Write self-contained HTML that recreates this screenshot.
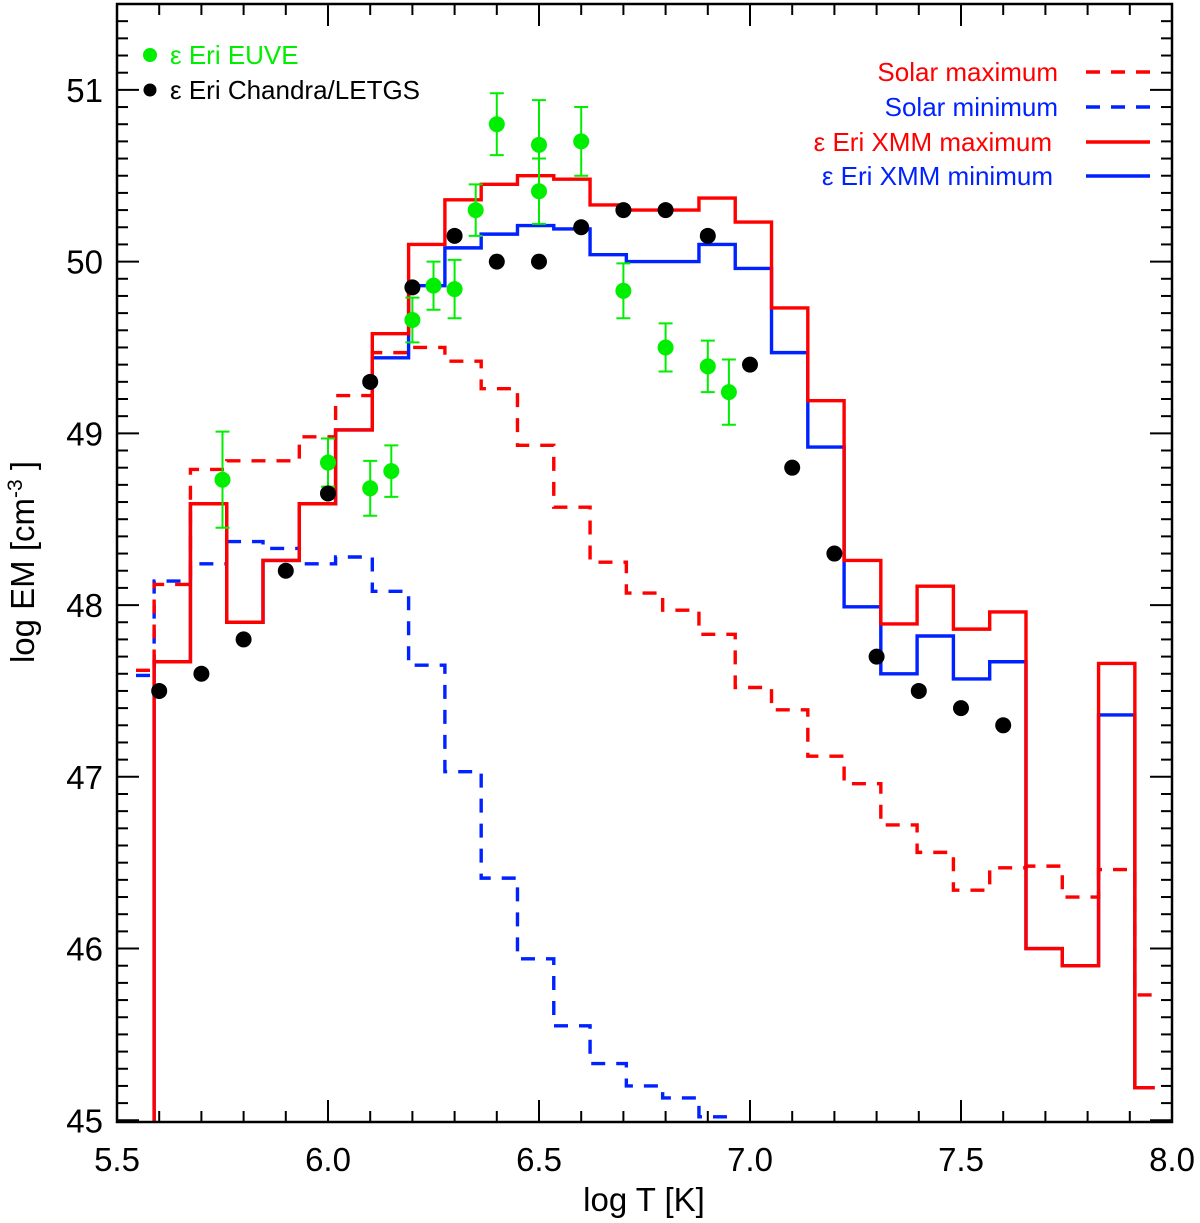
<!DOCTYPE html>
<html><head><meta charset="utf-8">
<style>
html,body{margin:0;padding:0;background:#fff;}
svg{display:block;font-family:"Liberation Sans",Arial,sans-serif;}
</style></head>
<body>
<svg id="chart" width="1200" height="1223" viewBox="0 0 1200 1223" xmlns="http://www.w3.org/2000/svg">
<g id="ticks"></g>
<g id="series"></g>
<rect x="117" y="4" width="1055" height="1118" fill="none" stroke="#000" stroke-width="2.5"/>
<g id="labels" font-size="33" fill="#000"></g>
<text x="644" y="1211" font-size="33" text-anchor="middle">log T [K]</text>
<text transform="translate(34,562) rotate(-90)" font-size="33" text-anchor="middle">log EM [cm<tspan dy="-12" font-size="21">-3</tspan><tspan dy="12"> ]</tspan></text>
<g font-size="26">
  <circle cx="150" cy="55" r="7" fill="#00ee00"/>
  <text x="170" y="64" fill="#00ee00">ε Eri EUVE</text>
  <circle cx="150" cy="90" r="6.5" fill="#000"/>
  <text x="170" y="99" fill="#000">ε Eri Chandra/LETGS</text>
</g>
<g font-size="26" text-anchor="end">
  <text x="1058" y="81" fill="#ff0000">Solar maximum</text>
  <line x1="1086" y1="72" x2="1150" y2="72" stroke="#ff0000" stroke-width="3.4" stroke-dasharray="14,11"/>
  <text x="1058" y="116" fill="#0022ff">Solar minimum</text>
  <line x1="1086" y1="107" x2="1150" y2="107" stroke="#0022ff" stroke-width="3.4" stroke-dasharray="14,11"/>
  <text x="1052" y="151" fill="#ff0000">ε Eri XMM maximum</text>
  <line x1="1086" y1="142" x2="1150" y2="142" stroke="#ff0000" stroke-width="3.4"/>
  <text x="1053" y="185" fill="#0022ff">ε Eri XMM minimum</text>
  <line x1="1086" y1="176" x2="1150" y2="176" stroke="#0022ff" stroke-width="3.4"/>
</g>
</svg>
<script>
// bin edges (log T) shared by all histograms
const binEdges = [5.588,5.674,5.760,5.846,5.932,6.018,6.105,6.191,6.277,6.363,6.449,6.535,6.621,6.707,6.793,6.879,6.965,7.051,7.137,7.223,7.310,7.396,7.482,7.568,7.654,7.740,7.826,7.912,7.959];
const xmmMax = [47.67,48.59,47.90,48.26,48.59,49.02,49.58,50.10,50.36,50.45,50.50,50.48,50.33,50.30,50.30,50.37,50.23,49.73,49.19,48.26,47.89,48.11,47.86,47.96,46.00,45.90,47.66,45.19];
const xmmMin = [47.67,48.59,47.90,48.26,48.59,49.02,49.44,49.86,50.08,50.16,50.21,50.19,50.04,50.00,50.00,50.10,49.96,49.47,48.92,47.99,47.60,47.82,47.57,47.67,46.00,45.90,47.36,45.19];
const solarMax = [48.12,48.79,48.84,48.84,48.98,49.22,49.47,49.50,49.42,49.26,48.93,48.57,48.25,48.07,47.97,47.83,47.52,47.39,47.12,46.96,46.72,46.56,46.34,46.47,46.48,46.30,46.46,45.73];
const solarMin = [48.14,48.24,48.37,48.33,48.24,48.28,48.08,47.65,47.03,46.41,45.94,45.55,45.33,45.20,45.13,45.02];
const solarMaxStart = 47.62, solarMinStart = 47.59, preStartX = 5.545;
const euveT = [5.75,6.0,6.1,6.15,6.2,6.25,6.3,6.35,6.4,6.5,6.5,6.6,6.7,6.8,6.9,6.95];
const euveEM = [48.73,48.83,48.68,48.78,49.66,49.86,49.84,50.30,50.80,50.68,50.41,50.70,49.83,49.50,49.39,49.24];
const euveErr = [0.28,0.14,0.16,0.15,0.13,0.14,0.17,0.15,0.18,0.26,0.19,0.20,0.16,0.14,0.15,0.19];
const chandraT = [5.6,5.7,5.8,5.9,6.0,6.1,6.2,6.3,6.4,6.5,6.6,6.7,6.8,6.9,7.0,7.1,7.2,7.3,7.4,7.5,7.6];
const chandraEM = [47.5,47.6,47.8,48.2,48.65,49.3,49.85,50.15,50.0,50.0,50.2,50.3,50.3,50.15,49.4,48.8,48.3,47.7,47.5,47.4,47.3];
const xTickLabels = ["5.5","6.0","6.5","7.0","7.5","8.0"];
const yTickLabels = ["45","46","47","48","49","50","51"];

const X0=117,X1=1172,Y0=4,Y1=1122;
const xMin=5.5,xMax=8.0,yMin=44.99,yMax=51.5;
function xs(v){return X0+(v-xMin)/(xMax-xMin)*(X1-X0);}
function ys(v){return Y1-(v-yMin)/(yMax-yMin)*(Y1-Y0);}
const NS="http://www.w3.org/2000/svg";
function mk(tag,attrs,parent){const e=document.createElementNS(NS,tag);for(const k in attrs)e.setAttribute(k,attrs[k]);parent.appendChild(e);return e;}
const series=document.getElementById('series');
const ticks=document.getElementById('ticks');
const labels=document.getElementById('labels');

const defs=mk('defs',{},series);
const cp=mk('clipPath',{id:'plotclip'},defs);
mk('rect',{x:X0,y:Y0,width:X1-X0,height:Y1-Y0},cp);

for(let i=0;i<=25;i++){
  const v=xMin+i*0.1; const x=xs(v); const major=(i%5===0); const L=major?22:11;
  const t1=mk('line',{x1:x,y1:Y1,x2:x,y2:Y1-L,stroke:'#000','stroke-width':2},ticks);
  
  
  const t2=mk('line',{x1:x,y1:Y0,x2:x,y2:Y0+L,stroke:'#000','stroke-width':2},ticks);
  
  
}
xTickLabels.forEach(s=>{
  const t=mk('text',{x:xs(parseFloat(s)),y:1171,'text-anchor':'middle'},labels);
  
  
  t.textContent=s;
});
for(let i=0;i<=65;i++){
  const v=45+i*0.1; if(v>yMax) break; const y=ys(v); const major=(i%10===0); const L=major?22:11;
  const t1=mk('line',{x1:X0,y1:y,x2:X0+L,y2:y,stroke:'#000','stroke-width':2},ticks);
  
  
  const t2=mk('line',{x1:X1,y1:y,x2:X1-L,y2:y,stroke:'#000','stroke-width':2},ticks);
  
  
}
yTickLabels.forEach(s=>{
  const t=mk('text',{x:103,y:ys(parseFloat(s))+12,'text-anchor':'end'},labels);
  
  
  t.textContent=s;
});

function stepPath(vals,startVal,startX,dropBottom){
  let d='';
  if(dropBottom){d='M'+xs(binEdges[0])+','+ys(44.8);}
  else {d='M'+xs(startX)+','+ys(startVal)+' L'+xs(binEdges[0])+','+ys(startVal);}
  vals.forEach((v,i)=>{
    d+=' L'+xs(binEdges[i])+','+ys(v)+' L'+xs(binEdges[i+1])+','+ys(v);
  });
  return d;
}
const g=mk('g',{'clip-path':'url(#plotclip)'},series);
const p1=mk('path',{d:stepPath(solarMin,solarMinStart,preStartX,false),fill:'none',stroke:'#0022ff','stroke-width':3.4,'stroke-dasharray':'14,11'},g);


const p2=mk('path',{d:stepPath(solarMax,solarMaxStart,preStartX,false),fill:'none',stroke:'#ff0000','stroke-width':3.4,'stroke-dasharray':'14,11'},g);


const p3=mk('path',{d:stepPath(xmmMin,0,0,true),fill:'none',stroke:'#0022ff','stroke-width':3.4},g);


const p4=mk('path',{d:stepPath(xmmMax,0,0,true),fill:'none',stroke:'#ff0000','stroke-width':3.4},g);



euveT.forEach((t,i)=>{
  const x=xs(t),y=ys(euveEM[i]),yt=ys(euveEM[i]+euveErr[i]),yb=ys(euveEM[i]-euveErr[i]);
  const eb=mk('path',{d:`M${x},${yt} L${x},${yb} M${x-7},${yt} L${x+7},${yt} M${x-7},${yb} L${x+7},${yb}`,stroke:'#00ee00','stroke-width':2,fill:'none'},series);
  
  
  const c=mk('circle',{cx:x,cy:y,r:8,fill:'#00ee00'},series);
  
  
});
chandraT.forEach((t,i)=>{
  const c=mk('circle',{cx:xs(t),cy:ys(chandraEM[i]),r:8,fill:'#000'},series);
  
  
});
</script>
</body></html>
